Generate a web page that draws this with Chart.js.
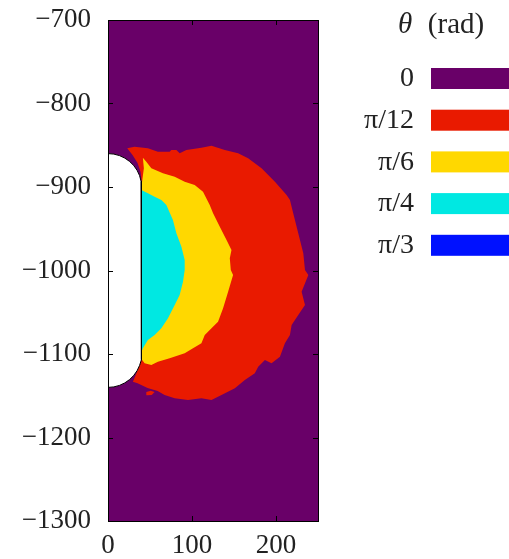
<!DOCTYPE html>
<html>
<head>
<meta charset="utf-8">
<script src="https://cdn.jsdelivr.net/npm/chart.js@4"></script>
<style>
  html, body { margin: 0; padding: 0; background: #fff; }
</style>
</head>
<body>
<canvas id="graph" width="509" height="559"></canvas>
<script>
// legend categories and colours
const thetaLabels = ['0', 'π/12', 'π/6', 'π/4', 'π/3'];
const thetaColors = ['#690068', '#e91a00', '#ffd800', '#00e8e2', '#0011ff'];

// axis ticks
const xTickVals = [0, 100, 200];
const yTickVals = [-1300, -1200, -1100, -1000, -900, -800, -700];

// region outlines, [x, y]
const regionZero = [[0, -700], [250, -700], [250, -1300], [0, -1300]];

const regionPi12 = [
  [22.9, -853.7], [31.6, -851.7], [47.5, -853.7], [59.4, -857.7], [73.4, -857.7],
  [75.4, -855.7], [81.4, -855.7], [85.3, -859.6], [93.3, -855.7], [111.2, -852.9],
  [123.2, -850.5], [139, -855.7], [154.9, -859.6], [166.8, -865.6], [182.8, -877.6],
  [198.7, -893.7], [212.6, -909.6], [216.6, -915.6], [220.5, -931.5], [226.5, -955.4],
  [232.5, -979.4], [234.5, -999.4], [238.5, -1005.4], [230.5, -1025.4], [234.5, -1041.3],
  [226.5, -1053.3], [218.6, -1065.3], [216.6, -1077.2], [210.6, -1087.2], [204.7, -1103.2],
  [194.7, -1111.1], [186.8, -1107.2], [178.8, -1115.2], [174.8, -1123.1], [162.9, -1131.1],
  [151, -1141.1], [135.1, -1149.1], [123.2, -1155.1], [111.2, -1153.1], [95.2, -1155.1],
  [79.4, -1153.1], [67.4, -1149.1], [59.1, -1144.3], [47.1, -1140.7], [35.2, -1135.1],
  [29.6, -1133.2], [33, -1125], [37, -1115], [39, -1108], [25, -1100], [25, -900],
  [40.5, -897], [38.8, -882], [35.2, -871.3], [29.2, -861.7], [22.9, -853.7]
];
const islandPi12 = [[45.6, -1145.5], [51, -1144], [55.5, -1145.5], [52, -1149], [46, -1149.5], [45.6, -1145.5]];

const regionPi6 = [
  [41.5, -864.9], [45.6, -869.7], [51.6, -877.6], [65.4, -883.6], [79.4, -887.7],
  [91.3, -893.7], [103.2, -897.6], [113.1, -905.6], [121.1, -921.6], [125.1, -931.5],
  [133.1, -947.5], [141.1, -963.5], [147, -975.4], [145, -985.4], [146.2, -999.4],
  [148.9, -1005.4], [143, -1025.4], [137, -1045.3], [131, -1061.3], [123.2, -1069.2],
  [115.2, -1077.2], [111.2, -1087.2], [101.2, -1093.2], [91.3, -1099.2], [73.4, -1105.1],
  [59.4, -1109.2], [51.6, -1113.2], [43.6, -1111.1], [38.8, -1104.8], [30, -1100],
  [30, -900], [40, -898], [41.2, -889], [42.7, -877.6], [41.5, -864.9]
];

const regionPi4 = [
  [39.6, -903.6], [47.5, -907.5], [55.5, -911.6], [63.5, -915.6], [69.5, -921.6],
  [77.3, -939.5], [81.4, -955.4], [87.4, -971.5], [91.3, -987.4], [91.3, -999.4],
  [89.3, -1013.4], [85.3, -1029.3], [79.4, -1041.3], [71.4, -1057.2], [63.5, -1069.2],
  [55.5, -1077.2], [47.5, -1083.2], [41.5, -1093.2], [40.8, -1095.2], [30, -1095],
  [30, -904], [39.6, -903.6]
];

// the blank obstacle on the left edge
const obstacle = [
  [0, -860], [6.95, -860.6], [13.68, -862.4], [20, -865.4], [25.71, -869.4],
  [30.64, -874.3], [34.64, -880], [37.59, -886.3], [39.39, -893.1], [40, -900],
  [40, -1100], [39.39, -1106.9], [37.59, -1113.7], [34.64, -1120], [30.64, -1125.7],
  [25.71, -1130.6], [20, -1134.6], [13.68, -1137.6], [6.95, -1139.4], [0, -1140]
];

const toXY = pts => pts.map(p => ({x: p[0], y: p[1]}));

function area(label, pts, color, order, border) {
  return {
    label: label,
    data: toXY(pts),
    showLine: true,
    fill: 'shape',
    backgroundColor: color,
    borderColor: border || color,
    borderWidth: border ? 1 : 0,
    pointRadius: 0,
    tension: 0,
    order: order
  };
}

const serif = '"Liberation Serif", "Times New Roman", serif';
const textColor = '#222';

// inward ticks on all four sides plus the frame
const frame = {
  id: 'frame',
  afterDatasetsDraw(chart) {
    const {ctx, chartArea: a, scales: {x, y}} = chart;
    ctx.save();
    ctx.strokeStyle = '#000';
    ctx.lineWidth = 1;
    ctx.beginPath();
    x.ticks.forEach(t => {
      const px = Math.round(x.getPixelForValue(t.value)) + 0.5;
      ctx.moveTo(px, a.bottom); ctx.lineTo(px, a.bottom - 5);
      ctx.moveTo(px, a.top); ctx.lineTo(px, a.top + 5);
    });
    y.ticks.forEach(t => {
      const py = Math.round(y.getPixelForValue(t.value)) + 0.5;
      ctx.moveTo(a.left, py); ctx.lineTo(a.left + 5, py);
      ctx.moveTo(a.right, py); ctx.lineTo(a.right - 5, py);
    });
    ctx.stroke();
    ctx.strokeRect(Math.round(a.left) + 0.5, Math.round(a.top) + 0.5,
      Math.round(a.right - a.left), Math.round(a.bottom - a.top));
    ctx.restore();
  }
};

// legend: labels on the left, swatches on the right
const thetaLegend = {
  id: 'thetaLegend',
  afterDraw(chart) {
    const ctx = chart.ctx;
    ctx.save();
    ctx.fillStyle = textColor;
    ctx.textBaseline = 'middle';
    ctx.textAlign = 'center';
    ctx.font = '29px ' + serif;
    ctx.fillText('(rad)', 456, 25);
    ctx.font = 'italic 29px ' + serif;
    ctx.textAlign = 'left';
    ctx.fillText('θ', 398, 25);
    ctx.textAlign = 'right';
    ctx.font = '28px ' + serif;
    thetaLabels.forEach((lab, i) => {
      const top = 68 + i * 41.7;
      ctx.fillStyle = thetaColors[i];
      ctx.fillRect(431, top, 78, 21);
      ctx.fillStyle = textColor;
      ctx.fillText(lab, 414, top + 11);
    });
    ctx.restore();
  }
};

new Chart(document.getElementById('graph').getContext('2d'), {
  type: 'scatter',
  data: {
    datasets: [
      area('obstacle', obstacle, '#ffffff', 0, '#000000'),
      area(thetaLabels[3], regionPi4, thetaColors[3], 1),
      area(thetaLabels[2], regionPi6, thetaColors[2], 2),
      area(thetaLabels[1], regionPi12, thetaColors[1], 3),
      area(thetaLabels[1], islandPi12, thetaColors[1], 3),
      area(thetaLabels[0], regionZero, thetaColors[0], 5)
    ]
  },
  options: {
    responsive: false,
    animation: false,
    layout: { padding: { left: 0, right: 191, top: 20, bottom: 0 } },
    plugins: {
      legend: { display: false },
      tooltip: { enabled: false }
    },
    scales: {
      x: {
        type: 'linear',
        min: 0,
        max: 250,
        afterBuildTicks: s => { s.ticks = xTickVals.map(v => ({value: v})); },
        afterFit: s => { s.height = 38; s.paddingLeft = 0; s.paddingRight = 0; },
        grid: { display: false, drawTicks: false },
        border: { display: false },
        ticks: {
          padding: 9,
          color: textColor,
          font: { family: serif, size: 27 },
          maxRotation: 0,
          callback: v => String(v).replace('-', '−')
        }
      },
      y: {
        type: 'linear',
        min: -1300,
        max: -700,
        afterBuildTicks: s => { s.ticks = yTickVals.map(v => ({value: v})); },
        afterFit: s => { s.width = 108; s.paddingTop = 0; s.paddingBottom = 0; },
        grid: { display: false, drawTicks: false },
        border: { display: false },
        ticks: {
          padding: 17,
          color: textColor,
          font: { family: serif, size: 27 },
          callback: v => String(v).replace('-', '−')
        }
      }
    }
  },
  plugins: [frame, thetaLegend]
});
</script>
</body>
</html>
